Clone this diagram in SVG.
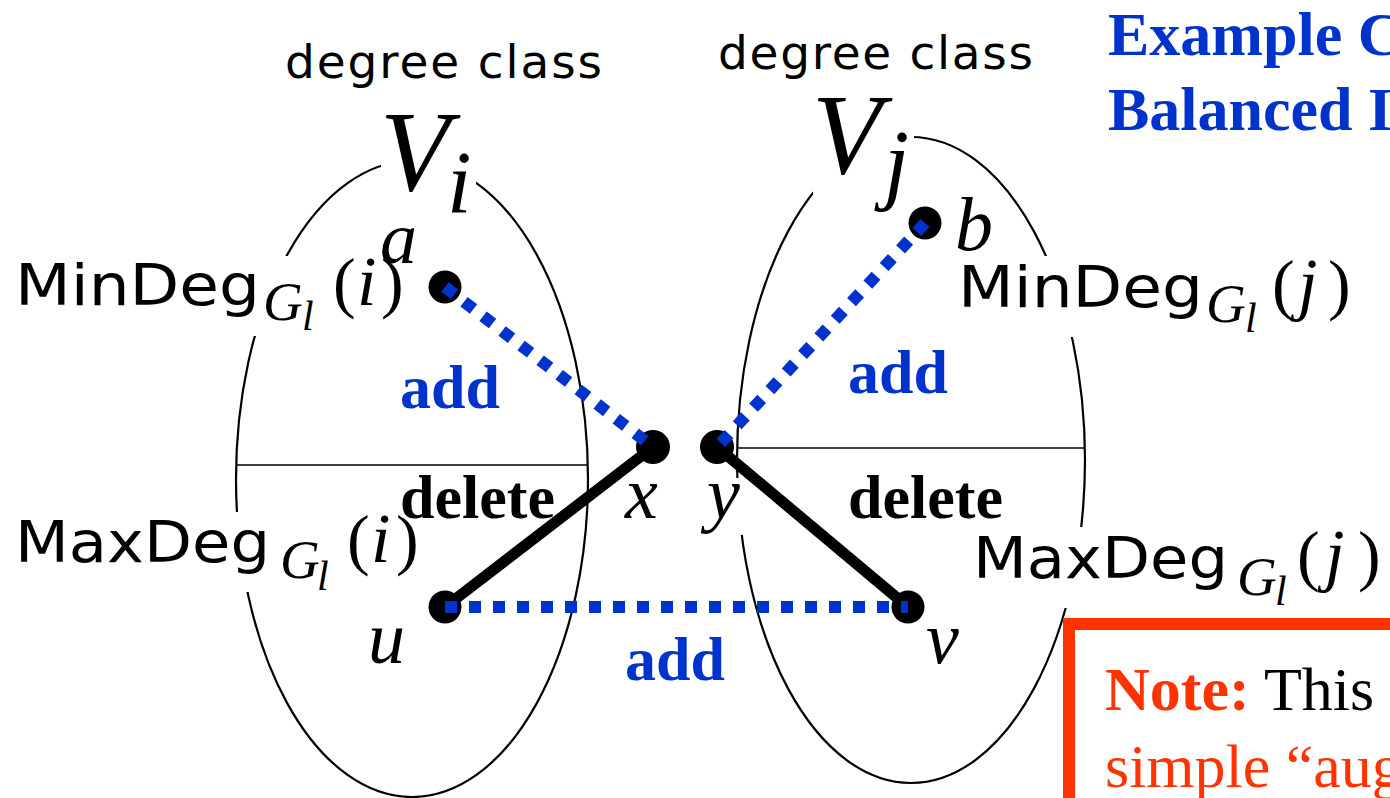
<svg xmlns="http://www.w3.org/2000/svg" width="1390" height="798" viewBox="0 0 1390 798">
<style>
.ell{fill:none;stroke:#000;stroke-width:2.2}
.div{stroke:#000;stroke-width:1.6}
.mask{fill:#fff}
.dot{fill:#000}
.del{stroke:#000;stroke-width:11;stroke-linecap:round}
.add{fill:none;stroke:#0033CC;stroke-width:12;stroke-dasharray:12 12;stroke-linecap:butt}
.sans{font-family:"DejaVu Sans","Liberation Sans",sans-serif;fill:#000}
.rm{font-family:"Liberation Serif","Times New Roman",serif;fill:#000}
.it{font-family:"Liberation Serif","Times New Roman",serif;font-style:italic;fill:#000}
.lbl{font-family:"Liberation Serif","Times New Roman",serif;font-weight:bold;font-size:62px}
.blue{fill:#0033CC}
.black{fill:#000}
.red{fill:#FF3300}
</style>
<rect width="1390" height="798" fill="#fff"/>

<g id="class-i">
  <ellipse class="ell" cx="412" cy="479" rx="176" ry="318"/>
  <line class="div" x1="236" y1="465" x2="588" y2="465"/>
  <rect class="mask" x="381" y="100" width="95" height="115"/>
  <rect class="mask" x="8" y="256" width="400" height="80"/>
  <rect class="mask" x="8" y="512" width="414" height="80"/>
  <text class="sans" x="285" y="78" font-size="47" textLength="317" lengthAdjust="spacing">degree class</text>
  <text class="it" x="380" y="190" font-size="114">V</text>
  <text class="it" x="447" y="212" font-size="88">i</text>
  <text class="sans" x="15" y="305" font-size="57" textLength="245" lengthAdjust="spacingAndGlyphs">MinDeg</text>
  <text class="it" x="263" y="320" font-size="55">G</text>
  <text class="it" x="302" y="330" font-size="42">l</text>
  <text class="rm" x="333" y="305" font-size="68">(</text>
  <text class="it" x="357" y="305" font-size="70">i</text>
  <text class="rm" x="381" y="305" font-size="68">)</text>
  <text class="sans" x="15" y="562" font-size="57" textLength="255" lengthAdjust="spacingAndGlyphs">MaxDeg</text>
  <text class="it" x="280" y="578" font-size="55">G</text>
  <text class="it" x="317" y="590" font-size="42">l</text>
  <text class="rm" x="347" y="562" font-size="68">(</text>
  <text class="it" x="371" y="562" font-size="70">i</text>
  <text class="rm" x="396" y="562" font-size="68">)</text>
</g>

<g id="class-j">
  <ellipse class="ell" cx="911" cy="460" rx="174" ry="323"/>
  <line class="div" x1="737" y1="448" x2="1085" y2="448"/>
  <rect class="mask" x="813" y="88" width="101" height="127"/>
  <rect class="mask" x="952" y="256" width="410" height="81"/>
  <rect class="mask" x="965" y="527" width="425" height="81"/>
  <text class="sans" x="718" y="69" font-size="47" textLength="315" lengthAdjust="spacing">degree class</text>
  <text class="it" x="812" y="173" font-size="114">V</text>
  <text class="it" x="884" y="193" font-size="90">j</text>
  <text class="sans" x="958" y="307" font-size="57" textLength="245" lengthAdjust="spacingAndGlyphs">MinDeg</text>
  <text class="it" x="1206" y="322" font-size="55">G</text>
  <text class="it" x="1245" y="332" font-size="42">l</text>
  <text class="rm" x="1272" y="307" font-size="68">(</text>
  <text class="it" x="1298" y="307" font-size="70">j</text>
  <text class="rm" x="1328" y="307" font-size="68">)</text>
  <text class="sans" x="973" y="578" font-size="57" textLength="255" lengthAdjust="spacingAndGlyphs">MaxDeg</text>
  <text class="it" x="1237" y="595" font-size="55">G</text>
  <text class="it" x="1275" y="605" font-size="42">l</text>
  <text class="rm" x="1297" y="578" font-size="68">(</text>
  <text class="it" x="1325" y="578" font-size="70">j</text>
  <text class="rm" x="1358" y="578" font-size="68">)</text>
</g>

<g id="node-a">
  <circle class="dot" cx="445" cy="287" r="16.5"/>
  <text class="it" x="380" y="263" font-size="74">a</text>
</g>
<g id="node-b">
  <circle class="dot" cx="925" cy="223" r="16.5"/>
  <text class="it" x="955" y="250" font-size="76">b</text>
</g>
<g id="node-x">
  <circle class="dot" cx="653" cy="447" r="17"/>
  <text class="it" x="625" y="518" font-size="74">x</text>
</g>
<g id="node-y">
  <rect class="mask" x="700" y="478" width="46" height="57"/>
  <circle class="dot" cx="717" cy="447" r="17"/>
  <text class="it" x="707" y="518" font-size="74">y</text>
</g>
<g id="node-u">
  <circle class="dot" cx="445" cy="607" r="16.5"/>
  <text class="it" x="368" y="663" font-size="74">u</text>
</g>
<g id="node-v">
  <circle class="dot" cx="908" cy="607" r="16.5"/>
  <text class="it" x="926" y="663" font-size="74">v</text>
</g>

<g id="connectors">
  <line class="del" x1="445" y1="607" x2="653" y2="447"/>
  <line class="del" x1="717" y1="447" x2="908" y2="607"/>
  <line class="add" x1="445" y1="287" x2="653" y2="447"/>
  <line class="add" x1="925" y1="223" x2="717" y2="447"/>
  <line class="add" x1="445" y1="607" x2="908" y2="607"/>
  <text class="lbl blue" x="400" y="408">add</text>
  <text class="lbl blue" x="848" y="393">add</text>
  <text class="lbl blue" x="625" y="680">add</text>
  <text class="lbl black" x="400" y="518">delete</text>
  <text class="lbl black" x="848" y="518">delete</text>
</g>

<g id="title">
  <text class="lbl blue" x="1108" y="55">Example C</text>
  <text class="lbl blue" x="1108" y="130">Balanced I</text>
</g>

<g id="note">
  <rect x="1069" y="624" width="340" height="200" fill="#fff" stroke="#FF3300" stroke-width="12"/>
  <text class="rm" x="1105" y="710" font-size="62"><tspan class="red" font-weight="bold">Note:</tspan><tspan class="black"> This</tspan></text>
  <text class="rm red" x="1105" y="787" font-size="62">simple “aug</text>
</g>
</svg>
